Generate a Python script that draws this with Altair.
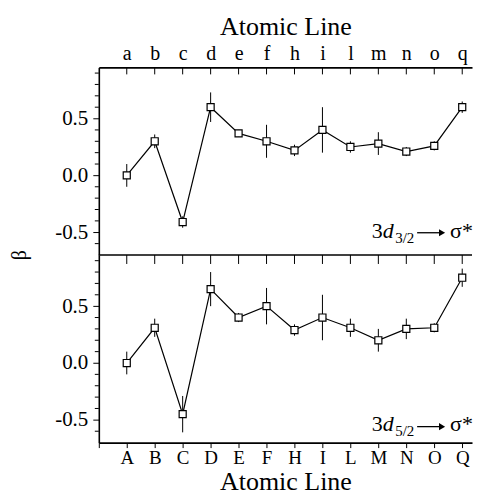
import altair as alt
import pandas as pd

# ---- data ----
lower_labels = ["a", "b", "c", "d", "e", "f", "h", "i", "l", "m", "n", "o", "q"]
upper_labels = ["A", "B", "C", "D", "E", "F", "H", "I", "L", "M", "N", "O", "Q"]
positions = list(range(1, 14))
beta_32 = [0.00, 0.30, -0.41, 0.60, 0.37, 0.30, 0.22, 0.40, 0.25, 0.28, 0.21, 0.26, 0.60]
err_32 = [0.10, 0.06, 0.05, 0.13, 0.03, 0.145, 0.05, 0.20, 0.05, 0.10, 0.04, 0.04, 0.05]
beta_52 = [0.00, 0.31, -0.45, 0.65, 0.40, 0.50, 0.29, 0.40, 0.31, 0.20, 0.30, 0.31, 0.75]
err_52 = [0.10, 0.08, 0.16, 0.15, 0.04, 0.16, 0.05, 0.20, 0.08, 0.10, 0.09, 0.04, 0.08]
major_y = [-0.5, 0.0, 0.5]
minor_y = [-0.6, -0.4, -0.3, -0.2, -0.1, 0.1, 0.2, 0.3, 0.4, 0.6, 0.7, 0.8, 0.9]
x_title = "Atomic Line"
y_title = "β"
sub_top = "3/2"
sub_bottom = "5/2"

W, H = 374, 188
XDOM = [0, 13.35]
YDOM = [-0.7, 0.95]
FONT = "Liberation Serif"

xscale = alt.Scale(domain=XDOM, nice=False, zero=False)
yscale = alt.Scale(domain=YDOM, nice=False, zero=False)

ylabel_expr = "datum.value < 0 ? '-' + format(-datum.value, '.1f') : format(datum.value, '.1f')"


def label_expr(labels):
    arr = "[" + ",".join("'%s'" % l for l in labels) + "]"
    return "datum.value < 1 ? '' : %s[datum.value - 1]" % arr


one = pd.DataFrame({"k": [0]})


def txt(text, x, y, size=22, style="normal", align="left"):
    return alt.Chart(one).mark_text(
        font=FONT, fontSize=size, fontStyle=style, align=align, baseline="alphabetic", color="black"
    ).encode(x=alt.value(x), y=alt.value(y), text=alt.value(text))


def annotation(sub, base_y, arrow_y):
    return [
        txt("3", 273.5, base_y),
        txt("d", 284.5, base_y, style="italic"),
        txt(sub, 297, base_y + 5, size=15),
        alt.Chart(one).mark_rule(color="black", strokeWidth=1.3).encode(
            x=alt.value(319), x2=alt.value(342), y=alt.value(arrow_y)
        ),
        alt.Chart(one).mark_point(shape="triangle-right", filled=True, color="black", size=50, opacity=1).encode(
            x=alt.value(344), y=alt.value(arrow_y)
        ),
        txt("σ*", 352, base_y),
    ]


def panel(beta, err, labels, top):
    df = pd.DataFrame({
        "pos": positions,
        "beta": beta,
        "lo": [b - e for b, e in zip(beta, err)],
        "hi": [b + e for b, e in zip(beta, err)],
    })
    if top:
        xaxis = alt.Axis(orient="top", values=positions, labelExpr=label_expr(labels), tickSize=0,
                         labelPadding=4, titlePadding=4, grid=False)
    else:
        xaxis = alt.Axis(orient="bottom", values=[0] + positions, labelExpr=label_expr(labels), tickSize=5,
                         labelPadding=1, titlePadding=1, labelFontSize=19, grid=False)
    yaxis = alt.Axis(values=major_y, labelExpr=ylabel_expr, tickSize=6, labelPadding=5, grid=False)

    def X(f):
        return alt.X(f, scale=xscale, axis=xaxis, title=x_title)

    def Y(f):
        return alt.Y(f, scale=yscale, axis=yaxis, title=None)

    base = alt.Chart(df)
    errs = base.mark_rule(color="black", strokeWidth=1).encode(x=X("pos:Q"), y=Y("lo:Q"), y2="hi:Q")
    line = base.mark_line(color="black", strokeWidth=1.2).encode(x=X("pos:Q"), y=Y("beta:Q"))
    pts = base.mark_point(shape="square", size=50, filled=True, fill="white", stroke="black",
                          strokeWidth=1.2, opacity=1).encode(x=X("pos:Q"), y=Y("beta:Q"))
    minor = alt.Chart(pd.DataFrame({"v": minor_y})).mark_rule(color="black", strokeWidth=1).encode(
        y=Y("v:Q"), x=alt.value(-4), x2=alt.value(0)
    )
    tick_len = 7 if top else 9
    inner = base.mark_rule(color="black", strokeWidth=1).encode(
        x=X("pos:Q"), y=alt.value(0), y2=alt.value(tick_len)
    )
    layers = [errs, line, pts, minor, inner]
    if top:
        layers += annotation(sub_top, 170.7, 165.7)
    else:
        layers += annotation(sub_bottom, 176.7, 172)
        layers.append(
            alt.Chart(one).mark_rule(color="black", strokeWidth=1.6).encode(
                x=alt.value(0), x2=alt.value(W), y=alt.value(0)
            )
        )
        layers.append(
            alt.Chart(one).mark_text(font=FONT, fontSize=20, angle=270, align="center", baseline="middle",
                                     color="black").encode(
                x=alt.value(-79.3), y=alt.value(0.2), text=alt.value(y_title)
            )
        )
    return alt.layer(*layers).properties(width=W, height=H)


p1 = panel(beta_32, err_32, lower_labels, True)
p2 = panel(beta_52, err_52, upper_labels, False)

chart = alt.vconcat(p1, p2, spacing=0, bounds="flush").properties(
    padding={"left": 1, "top": 4, "right": 0, "bottom": 0}
).configure_view(stroke="transparent").configure_axis(
    labelFont=FONT, titleFont=FONT, labelFontSize=20, titleFontSize=26, titleFontWeight="normal",
    labelColor="black", titleColor="black", domainColor="black", tickColor="black",
    domainWidth=1.6, tickWidth=1
).configure_axisY(labelFontSize=21).configure_text(font=FONT)

chart.save("out.html", embed_options={"renderer": "svg", "actions": False})
